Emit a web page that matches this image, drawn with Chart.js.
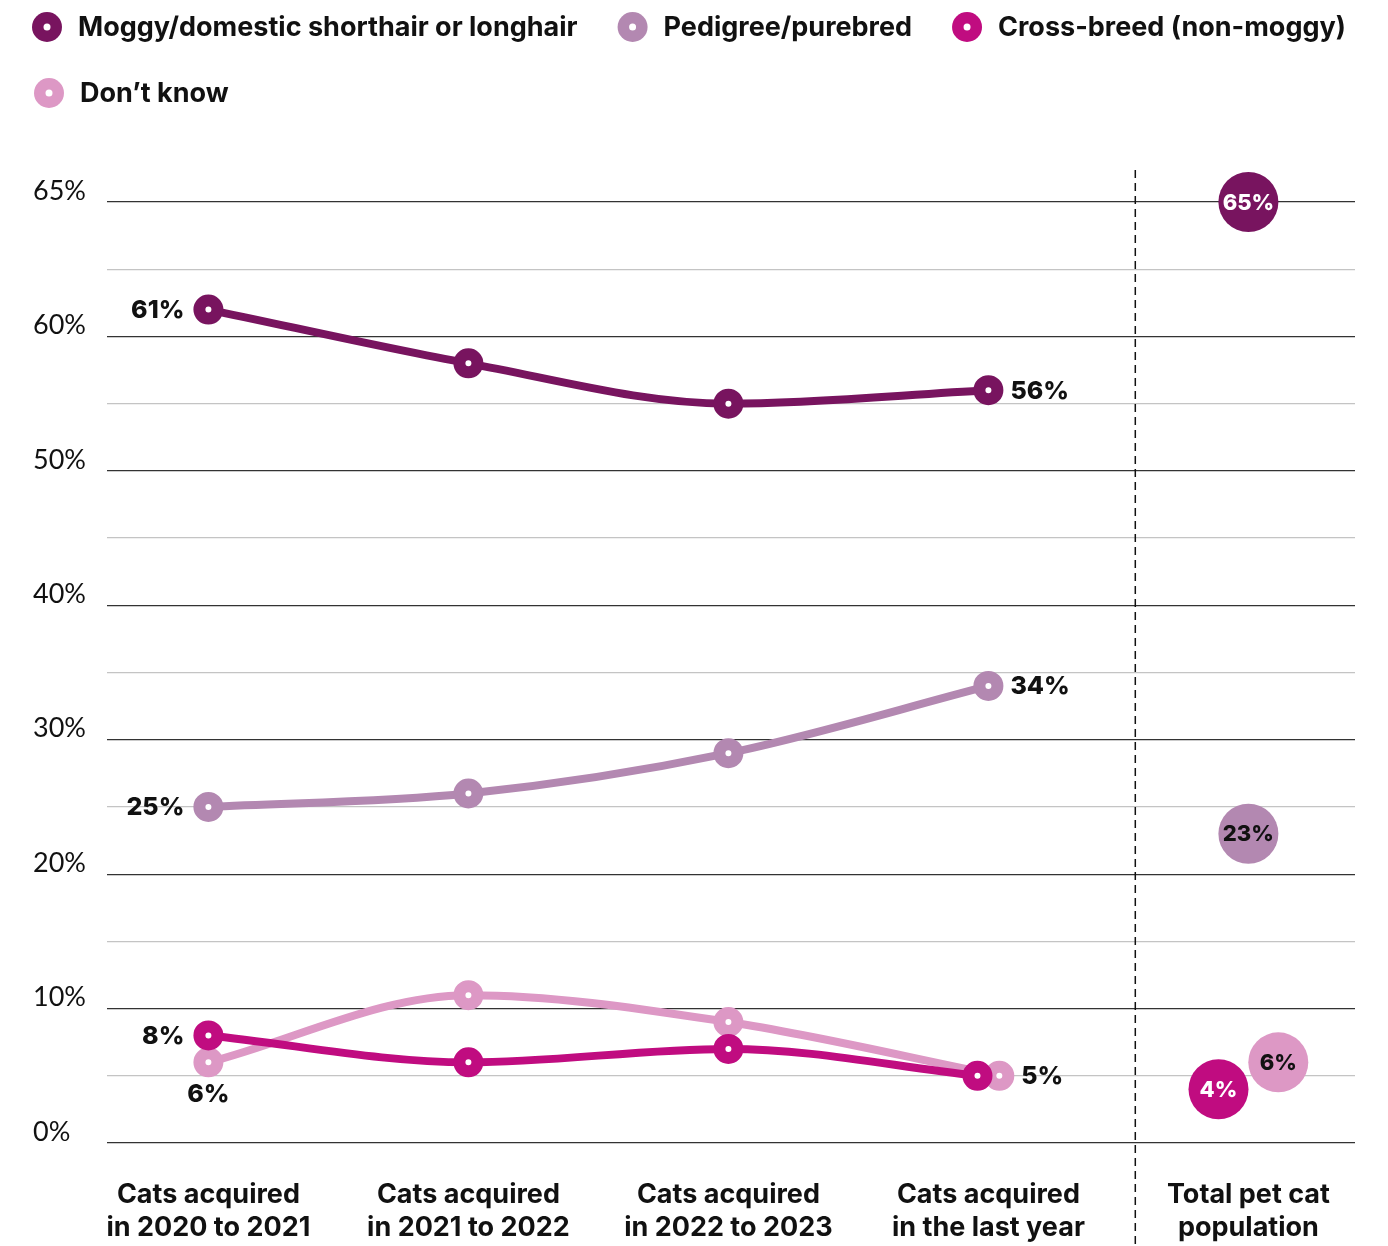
<!DOCTYPE html>
<html lang="en">
<head>
<meta charset="utf-8">
<title>Cat types acquired</title>
<script src="https://cdn.jsdelivr.net/npm/chart.js@4.4.1/dist/chart.umd.min.js"></script>
<style>
  html, body { margin: 0; padding: 0; background: #fff; }
  #wrap { width: 1388px; height: 1246px; position: relative; }
</style>
</head>
<body>
<div id="wrap"><canvas id="catChart"></canvas></div>
<script>
// x categories (two-line labels)
const categories = [
  ['Cats acquired', 'in 2020 to 2021'],
  ['Cats acquired', 'in 2021 to 2022'],
  ['Cats acquired', 'in 2022 to 2023'],
  ['Cats acquired', 'in the last year'],
  ['Total pet cat', 'population']
];
const seriesNames = [
  'Moggy/domestic shorthair or longhair',
  'Pedigree/purebred',
  'Cross-breed (non-moggy)',
  'Don\u2019t know'
];
// % of cats, per acquisition period
const moggy = [61, 58, 55, 56];
const pedigree = [25, 26, 29, 34];
const crossBreed = [8, 6, 7, 5];
const dontKnow = [6, 11, 9, 5];
// % of the whole pet cat population, same series order
const totalPopulation = [65, 23, 4, 6];

const tickLabels = [0, 10, 20, 30, 40, 50, 60, 65];
const gridValues = [0, 5, 10, 15, 20, 25, 30, 35, 40, 45, 50, 55, 60, 62.5, 65];

const series = [moggy, pedigree, crossBreed, dontKnow];
const colors = ['#78145f', '#b388b1', '#c00c80', '#dd98c5'];
const bubbleInk = ['#fff', '#111', '#fff', '#111'];
// which points get a value label, and on which side
const labelAt = [
  { 0: 'left', 3: 'right' },
  { 0: 'left', 3: 'right' },
  { 0: 'left' },
  { 0: 'below', 3: 'right' }
];
// small sideways shifts so overlapping markers stay readable
const lastShift = [0, 0, -0.042, 0.042];
const totalShift = [0, 0, -0.115, 0.115];

const BOLD = 'Inter, Roboto, sans-serif';

// the band above 60% is drawn twice as tall so the 65% line sits at the top
const SPLIT = 60;
class StretchedScale extends Chart.LinearScale {
  static id = 'stretched';
  static defaults = Chart.LinearScale.defaults;
  toLinear(v) { return v > SPLIT ? SPLIT + (v - SPLIT) * 2 : v; }
  getPixelForValue(value) {
    if (value === null || isNaN(value)) return NaN;
    const span = this.toLinear(this.max) - this.min;
    return this.getPixelForDecimal((this.toLinear(value) - this.min) / span);
  }
  getValueForPixel(pixel) {
    const span = this.toLinear(this.max) - this.min;
    const v = this.min + this.getDecimalForPixel(pixel) * span;
    return v > SPLIT ? SPLIT + (v - SPLIT) / 2 : v;
  }
}
Chart.register(StretchedScale);

const datasets = series.map((vals, s) => ({
  type: 'line',
  label: seriesNames[s],
  data: vals.map((v, i) => ({ x: i + (i === vals.length - 1 ? lastShift[s] : 0), y: v })),
  borderColor: colors[s],
  backgroundColor: colors[s],
  borderWidth: 8,
  cubicInterpolationMode: 'monotone',
  pointRadius: 9,
  pointBorderWidth: 12,
  pointBackgroundColor: '#fff',
  pointBorderColor: colors[s],
  clip: false
}));

totalPopulation.forEach((v, s) => {
  datasets.push({
    type: 'line',
    label: seriesNames[s] + ' (total)',
    isTotal: true,
    data: [{ x: categories.length - 1 + totalShift[s], y: v }],
    showLine: false,
    pointRadius: 30,
    pointBorderWidth: 0,
    pointBackgroundColor: colors[s],
    pointBorderColor: colors[s],
    ink: bubbleInk[s],
    clip: false
  });
});

const divider = {
  id: 'divider',
  beforeDatasetsDraw(chart) {
    const { ctx } = chart;
    const x = chart.scales.x.getPixelForValue(3.565);
    ctx.save();
    ctx.strokeStyle = '#111';
    ctx.lineWidth = 1.5;
    ctx.setLineDash([8, 5]);
    ctx.beginPath();
    ctx.moveTo(x, 170);
    ctx.lineTo(x, chart.height);
    ctx.stroke();
    ctx.restore();
  }
};

const valueLabels = {
  id: 'valueLabels',
  afterDatasetsDraw(chart) {
    const { ctx } = chart;
    ctx.save();
    chart.data.datasets.forEach((ds, d) => {
      const meta = chart.getDatasetMeta(d);
      if (ds.isTotal) {
        const p = meta.data[0];
        ctx.font = '800 22px ' + BOLD;
        ctx.fillStyle = ds.ink;
        ctx.textAlign = 'center';
        ctx.textBaseline = 'middle';
        ctx.fillText(ds.data[0].y + '%', p.x, p.y + 1);
        return;
      }
      const spots = labelAt[d];
      ctx.font = '800 25px ' + BOLD;
      ctx.fillStyle = '#111';
      Object.keys(spots).forEach(k => {
        const p = meta.data[k];
        const txt = ds.data[k].y + '%';
        const side = spots[k];
        if (side === 'left') {
          ctx.textAlign = 'right'; ctx.textBaseline = 'middle';
          ctx.fillText(txt, p.x - 24, p.y + 1);
        } else if (side === 'right') {
          ctx.textAlign = 'left'; ctx.textBaseline = 'middle';
          ctx.fillText(txt, p.x + 22, p.y + 1);
        } else {
          ctx.textAlign = 'center'; ctx.textBaseline = 'middle';
          ctx.fillText(txt, p.x, p.y + 32);
        }
      });
    });
    ctx.restore();
  }
};

// legend: ringed dot + bold name, wrapping across the top
const dotLegend = {
  id: 'dotLegend',
  afterDraw(chart) {
    const { ctx } = chart;
    ctx.save();
    ctx.font = '700 27px ' + BOLD;
    ctx.textBaseline = 'middle';
    ctx.textAlign = 'left';
    let x = 32, y = 27;
    chart.data.datasets.filter(ds => !ds.isTotal).forEach(ds => {
      const w = 46 + ctx.measureText(ds.label).width;
      if (x + w > chart.width) { x = 34; y += 66; }
      ctx.fillStyle = ds.borderColor;
      ctx.beginPath();
      ctx.arc(x + 15, y, 15, 0, Math.PI * 2);
      ctx.fill();
      ctx.fillStyle = '#fff';
      ctx.beginPath();
      ctx.arc(x + 15, y, 3.5, 0, Math.PI * 2);
      ctx.fill();
      ctx.fillStyle = '#111';
      ctx.fillText(ds.label, x + 46, y + 1);
      x += w + 40;
    });
    ctx.restore();
  }
};

new Chart(document.getElementById('catChart'), {
  type: 'line',
  data: { datasets },
  options: {
    responsive: true,
    maintainAspectRatio: false,
    animation: false,
    events: [],
    layout: { padding: { top: 202, left: 33, right: 33, bottom: 0 } },
    plugins: {
      legend: { display: false },
      tooltip: { enabled: false }
    },
    scales: {
      x: {
        type: 'linear',
        min: -0.39,
        max: 4.41,
        afterBuildTicks: axis => { axis.ticks = categories.map((c, i) => ({ value: i })); },
        afterFit: axis => { axis.height = 103; },
        grid: { display: false },
        border: { display: false },
        ticks: {
          autoSkip: false,
          maxRotation: 0,
          padding: 27,
          color: '#111',
          font: { family: BOLD, size: 27, weight: '700', lineHeight: 1.22 },
          callback: v => categories[v]
        }
      },
      y: {
        type: 'stretched',
        min: 0,
        max: 65,
        afterBuildTicks: axis => { axis.ticks = gridValues.map(v => ({ value: v })); },
        afterFit: axis => { axis.width = 74; },
        border: { display: false },
        grid: {
          drawTicks: false,
          color: ctx => (tickLabels.includes(ctx.tick.value) ? '#333' : '#c4c4c4'),
          lineWidth: 1.2
        },
        ticks: {
          crossAlign: 'far',
          labelOffset: -11,
          color: '#111',
          font: { family: 'Lato, "Open Sans", sans-serif', size: 27, weight: '400' },
          callback: v => (tickLabels.includes(v) ? v + '%' : '')
        }
      }
    }
  },
  plugins: [divider, valueLabels, dotLegend]
});
</script>
</body>
</html>
